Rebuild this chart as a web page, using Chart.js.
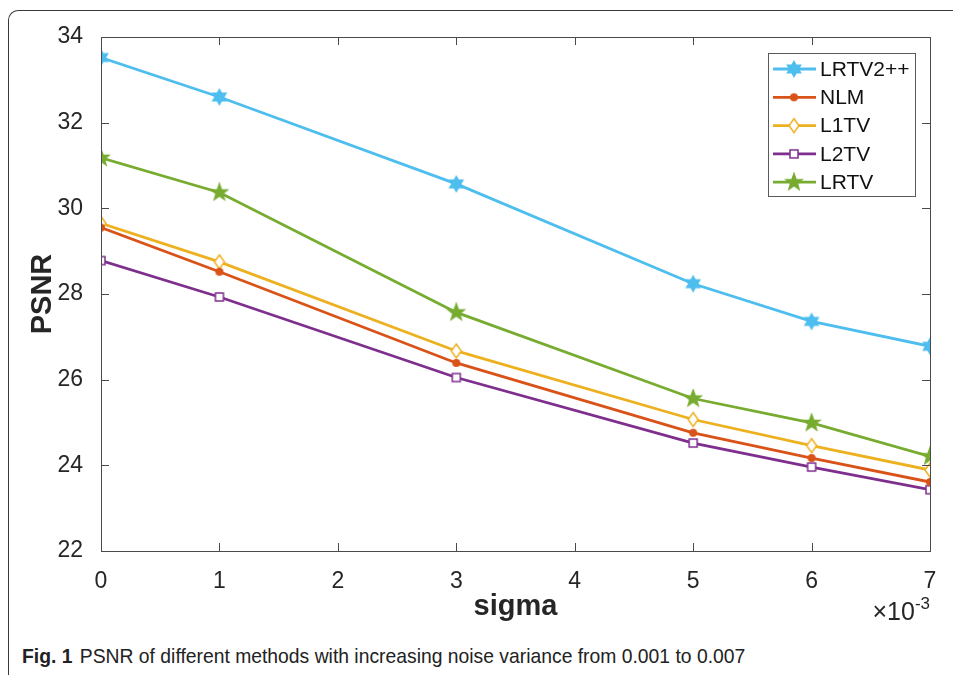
<!DOCTYPE html>
<html>
<head>
<meta charset="utf-8">
<script src="https://cdn.jsdelivr.net/npm/chart.js@4.4.1/dist/chart.umd.min.js"></script>
<style>
  html, body { margin: 0; padding: 0; background: #fff; }
  #page { position: relative; width: 953px; height: 675px; overflow: hidden; background: #fff; }
  #frame { position: absolute; left: 8px; top: 10px; width: 1000px; height: 700px;
           border-top: 1.5px solid #3a3a3a; border-left: 1.5px solid #3a3a3a; border-top-left-radius: 10px; }
  #wrap { position: absolute; left: 0; top: 0; width: 953px; height: 640px; }
  #exp { position: absolute; right: 23px; top: 596px; font: 25px "Liberation Sans", Arial, sans-serif; color: #262626; }
  #exp sup { font-size: 17px; position: relative; top: -2px; }
  #caption { position: absolute; left: 22px; top: 644px; font: 21px "Liberation Sans", sans-serif;
             color: #222; white-space: nowrap; transform: scaleX(0.92); transform-origin: left center; }
  #caption b { margin-right: 8px; }
</style>
</head>
<body>
<div id="page">
  <div id="frame"></div>
  <div id="wrap"><canvas id="psnrChart"></canvas></div>
  <div id="exp">&times;10<sup>-3</sup></div>
  <div id="caption"><b>Fig. 1</b>PSNR of different methods with increasing noise variance from 0.001 to 0.007</div>
</div>
<script>
// values (sigma in units of 1e-3)
const sigma = [0, 1, 3, 5, 6, 7];
const lrtv2pp = [33.52, 32.60, 30.57, 28.24, 27.36, 26.78];
const nlm = [29.55, 28.52, 26.39, 24.76, 24.17, 23.61];
const l1tv = [29.65, 28.75, 26.67, 25.07, 24.46, 23.89];
const l2tv = [28.78, 27.93, 26.05, 24.52, 23.96, 23.43];
const lrtv = [31.18, 30.37, 27.57, 25.56, 24.99, 24.21];
const yTicks = [22, 24, 26, 28, 30, 32, 34];

const textColor = '#262626';

// marker images
function makeMarker(shape, color) {
    const c = document.createElement('canvas');
    c.width = 20; c.height = 20;
    const g = c.getContext('2d');
    g.translate(10, 10);
    g.strokeStyle = color;
    g.fillStyle = color;
    g.lineWidth = 1.5;
    g.beginPath();
    if (shape === 'hexagram' || shape === 'pentagram') {
        const n = shape === 'hexagram' ? 6 : 5;
        const ro = shape === 'hexagram' ? 7.5 : 8.5;
        const ri = shape === 'hexagram' ? 4.3 : 3.5;
        for (let i = 0; i < n * 2; i++) {
            const r = i % 2 === 0 ? ro : ri;
            const a = -Math.PI / 2 + i * Math.PI / n;
            const px = r * Math.cos(a), py = r * Math.sin(a);
            if (i === 0) g.moveTo(px, py); else g.lineTo(px, py);
        }
        g.closePath();
        g.fill();
        g.stroke();
    } else if (shape === 'circle') {
        g.arc(0, 0, 4, 0, Math.PI * 2);
        g.fill();
    } else if (shape === 'diamond') {
        g.moveTo(0, -7); g.lineTo(5, 0); g.lineTo(0, 7); g.lineTo(-5, 0);
        g.closePath();
        g.fillStyle = '#fff';
        g.fill();
        g.stroke();
    } else if (shape === 'square') {
        g.rect(-4, -4, 8, 8);
        g.fillStyle = '#fff';
        g.fill();
        g.stroke();
    }
    return c;
}

const seriesDefs = [
    { label: 'LRTV2++', values: lrtv2pp, color: '#4DBEEE', shape: 'hexagram' },
    { label: 'NLM', values: nlm, color: '#D95319', shape: 'circle' },
    { label: 'L1TV', values: l1tv, color: '#EDB120', shape: 'diamond' },
    { label: 'L2TV', values: l2tv, color: '#7E2F8E', shape: 'square' },
    { label: 'LRTV', values: lrtv, color: '#77AC30', shape: 'pentagram' },
];

const datasets = seriesDefs.map(s => ({
    label: s.label,
    data: sigma.map((x, i) => ({ x: x, y: s.values[i] })),
    borderColor: s.color,
    backgroundColor: s.color,
    borderWidth: 2.8,
    pointStyle: makeMarker(s.shape, s.color),
    pointRadius: 6,
    fill: false,
    tension: 0,
}));

// axes box with inward ticks, like matlab
const boxPlugin = {
    id: 'boxPlugin',
    afterDatasetsDraw(chart) {
        const { ctx, chartArea: a, scales } = chart;
        ctx.save();
        ctx.strokeStyle = '#4a4a4a';
        ctx.lineWidth = 1;
        ctx.strokeRect(a.left + 0.5, a.top + 0.5, a.right - a.left, a.bottom - a.top);
        ctx.beginPath();
        scales.x.ticks.forEach(t => {
            const px = Math.round(scales.x.getPixelForValue(t.value)) + 0.5;
            ctx.moveTo(px, a.bottom); ctx.lineTo(px, a.bottom - 8);
            ctx.moveTo(px, a.top); ctx.lineTo(px, a.top + 8);
        });
        scales.y.ticks.forEach(t => {
            const py = Math.round(scales.y.getPixelForValue(t.value)) + 0.5;
            ctx.moveTo(a.left, py); ctx.lineTo(a.left + 8, py);
            ctx.moveTo(a.right, py); ctx.lineTo(a.right - 8, py);
        });
        ctx.stroke();
        ctx.restore();
    }
};

// legend box in the upper right corner
const legendPlugin = {
    id: 'legendPlugin',
    afterDraw(chart) {
        const { ctx, chartArea: a } = chart;
        const right = a.right - 15, top = a.top + 16;
        const w = 147, h = 143, rowH = 28.3;
        const left = right - w;
        ctx.save();
        ctx.fillStyle = '#fff';
        ctx.fillRect(left, top, w, h);
        ctx.strokeStyle = '#5a5a5a';
        ctx.lineWidth = 1;
        ctx.strokeRect(left + 0.5, top + 0.5, w, h);
        ctx.font = '21px "Liberation Sans", Arial, sans-serif';
        ctx.textBaseline = 'middle';
        chart.data.datasets.forEach((ds, i) => {
            const cy = top + 16 + i * rowH;
            ctx.strokeStyle = ds.borderColor;
            ctx.lineWidth = 2.8;
            ctx.beginPath();
            ctx.moveTo(left + 5, cy); ctx.lineTo(left + 48, cy);
            ctx.stroke();
            const img = ds.pointStyle;
            ctx.drawImage(img, left + 26 - img.width / 2, cy - img.height / 2);
            ctx.fillStyle = '#111';
            ctx.fillText(ds.label, left + 52, cy + 1);
        });
        ctx.restore();
    }
};

const ctx = document.getElementById('psnrChart').getContext('2d');
new Chart(ctx, {
    type: 'line',
    data: { datasets: datasets },
    options: {
        responsive: true,
        maintainAspectRatio: false,
        animation: false,
        layout: { padding: { left: 0, top: 37, right: 23, bottom: 10 } },
        plugins: {
            legend: { display: false },
            tooltip: { enabled: false },
        },
        scales: {
            x: {
                type: 'linear',
                min: 0,
                max: 7,
                grid: { display: false },
                border: { display: false },
                ticks: {
                    stepSize: 1,
                    padding: 9,
                    color: textColor,
                    font: { family: '"Liberation Sans", Arial, sans-serif', size: 23 },
                },
                title: {
                    display: true,
                    text: 'sigma',
                    color: textColor,
                    padding: { top: 0, bottom: 6 },
                    font: { family: '"Liberation Sans", Arial, sans-serif', size: 29, weight: 'bold' },
                },
                afterFit(scale) { scale.height = 79; },
            },
            y: {
                min: 22,
                max: 34,
                grid: { display: false },
                border: { display: false },
                afterBuildTicks(scale) { scale.ticks = yTicks.map(v => ({ value: v })); },
                ticks: {
                    padding: 10,
                    color: textColor,
                    font: { family: '"Liberation Sans", Arial, sans-serif', size: 23 },
                },
                title: {
                    display: true,
                    text: 'PSNR',
                    color: textColor,
                    padding: { top: 26, bottom: 0 },
                    font: { family: '"Liberation Sans", Arial, sans-serif', size: 29, weight: 'bold' },
                },
                afterFit(scale) { scale.width = 101; },
            },
        },
    },
    plugins: [boxPlugin, legendPlugin],
});
</script>
</body>
</html>
